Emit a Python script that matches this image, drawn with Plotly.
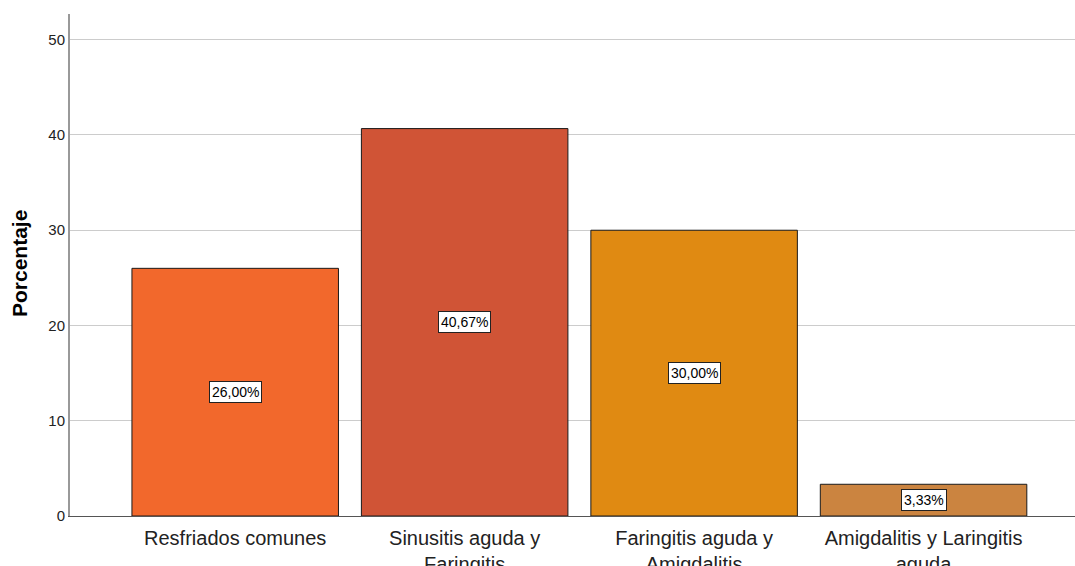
import plotly.graph_objects as go

categories = ["Resfriados comunes", "Sinusitis aguda y<br>Faringitis",
              "Faringitis aguda y<br>Amigdalitis", "Amigdalitis y Laringitis<br>aguda"]
values = [26.00, 40.67, 30.00, 3.33]
value_labels = ["26,00%", "40,67%", "30,00%", "3,33%"]
colors = ["#F2682C", "#D05436", "#E08A12", "#CB8440"]
y_ticks = [0, 10, 20, 30, 40, 50]

x_idx = list(range(len(categories)))

fig = go.Figure()
fig.add_trace(go.Bar(
    x=x_idx, y=values, width=0.9,
    marker=dict(color=colors, line=dict(color="#1a1a1a", width=1)),
    hoverinfo="skip",
))

for i, (v, t) in enumerate(zip(values, value_labels)):
    fig.add_annotation(x=i, y=v / 2, text=t, showarrow=False,
                       font=dict(family="Liberation Sans, Arial", size=14, color="#000"),
                       bgcolor="white", bordercolor="#222", borderwidth=1, borderpad=2)

fig.add_annotation(xref="paper", yref="paper", x=(19 - 70) / 1005, y=(516 - 264) / 502,
                   xanchor="center", yanchor="middle",
                   text="<b>Porcentaje</b>", textangle=-90, showarrow=False,
                   font=dict(family="Liberation Sans, Arial", size=21, color="#000"))

fig.update_layout(
    width=1075, height=566,
    margin=dict(l=70, r=0, t=14, b=50, autoexpand=False),
    paper_bgcolor="white", plot_bgcolor="white",
    showlegend=False,
    bargap=0.1,
)
fig.update_xaxes(
    tickmode="array", tickvals=x_idx, ticktext=categories,
    range=[-0.72, 3.66], automargin=False,
    showline=True, linecolor="#555", linewidth=1,
    showgrid=False, ticks="", ticklabelstandoff=4,
    tickfont=dict(family="Liberation Sans, Arial", size=20, color="#222"),
)
fig.update_yaxes(
    range=[0, 52.7], tickvals=y_ticks, automargin=False,
    showline=True, linecolor="#999", linewidth=2,
    showgrid=True, gridcolor="#cccccc", gridwidth=1,
    ticks="", zeroline=False,
    tickfont=dict(family="Liberation Sans, Arial", size=15, color="#222"),
)
fig.write_html(
    "out.html",
    config={"displayModeBar": False},
    post_script="document.body.style.margin='0px';document.body.style.overflow='hidden';"
                "var d=document.getElementById('{plot_id}');Plotly.relayout(d,{width:1075,height:566});",
)
